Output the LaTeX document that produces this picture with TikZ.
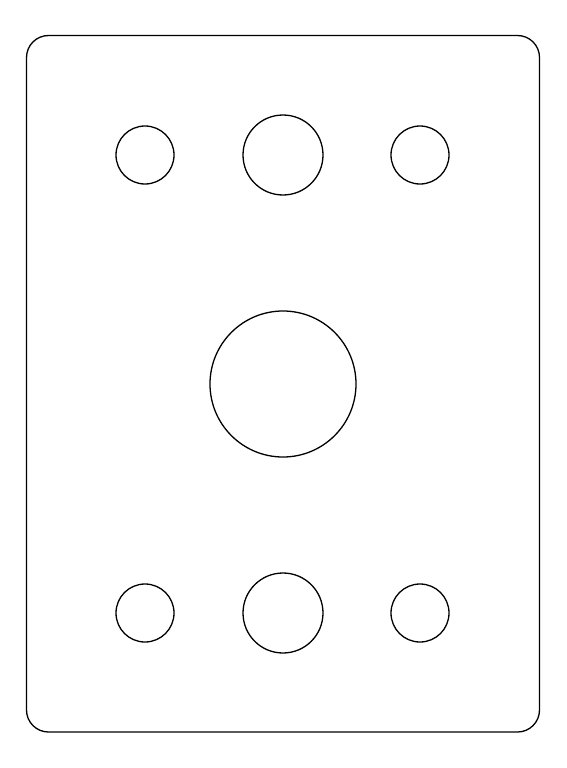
\documentclass[tikz,border=0pt]{standalone}
\begin{document}
\begin{tikzpicture}[x=1pt,y=-1pt,
  hole/.style={draw=black,line width=1.3pt,circle,inner sep=0pt,minimum size=#1},
  plate/.style={draw=black,line width=1.3pt,rounded corners=22pt}]
\useasboundingbox (0,0) rectangle (566,768);
\draw[plate] (26.5,35.5) rectangle (539.5,732);
\node[hole=58pt] (tl) at (145,155) {};
\node[hole=80pt] (tm) at (283,155) {};
\node[hole=58pt] (tr) at (420,155) {};
\node[hole=146pt] (c) at (283,384) {};
\node[hole=58pt] (bl) at (145,613) {};
\node[hole=80pt] (bm) at (283,613) {};
\node[hole=58pt] (br) at (420,613) {};
\end{tikzpicture}
\end{document}
